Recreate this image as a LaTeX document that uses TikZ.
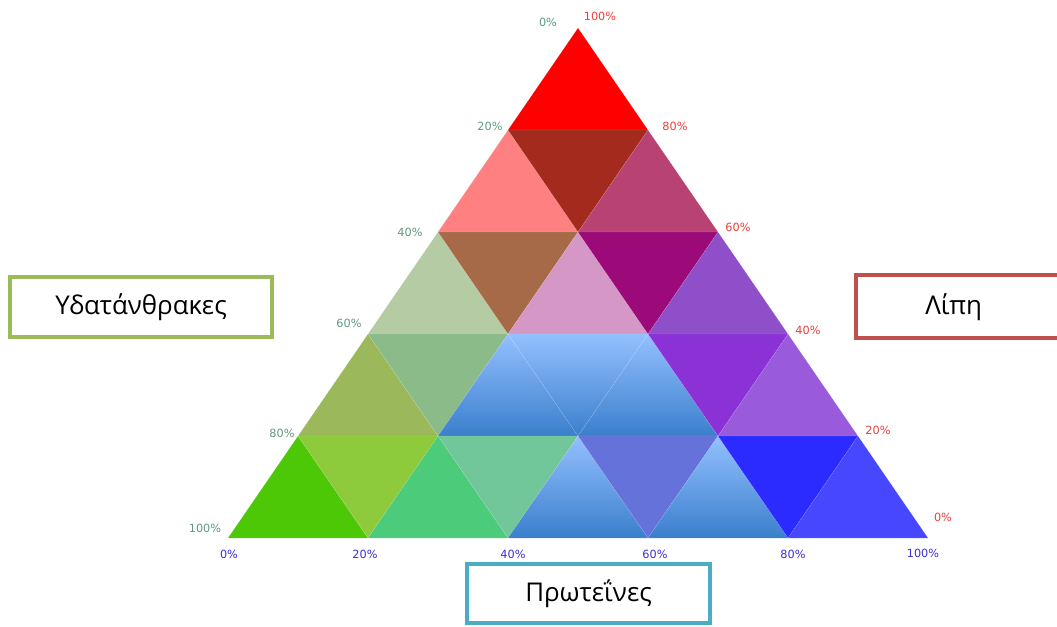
\documentclass[tikz,border=0pt]{standalone}
\usepackage{xcolor}
\usepackage{fontspec}
\setmainfont{Open Sans}
\newfontfamily\tickfont{DejaVu Sans}

\definecolor{bluetop}{HTML}{94C0FF}
\definecolor{bluebot}{HTML}{3A7FCC}
\definecolor{carbtext}{HTML}{5E9A7E}
\definecolor{fattext}{HTML}{E8403A}
\definecolor{prottext}{HTML}{3A2FD0}
\definecolor{carbline}{HTML}{9BBB59}
\definecolor{fatline}{HTML}{C0504D}
\definecolor{protline}{HTML}{4BACC6}

\begin{document}
\begin{tikzpicture}[x=0.0265cm, y=0.0265cm,
        tri/.style={draw=white, draw opacity=0.18, line width=0.3pt},
        blueshade/.style={tri, top color=bluetop, bottom color=bluebot},
        tick/.style={font=\tickfont\fontsize{8.5}{10}\selectfont, inner sep=0pt},
        ctick/.style={tick, text=carbtext},
        ftick/.style={tick, text=fattext},
        ptick/.style={tick, text=prottext},
        namebox/.style={draw, line width=3pt, fill=white, font=\fontsize{19.5}{23}\selectfont}]
    \useasboundingbox (0,0) rectangle (1057,-626);
    % row 1
    \fill [tri, fill={rgb,255:red,255;green,0;blue,0}] (578,-28) -- (508,-130) -- (648,-130) -- cycle;
    % row 2
    \fill [tri, fill={rgb,255:red,255;green,128;blue,128}] (508,-130) -- (438,-232) -- (578,-232) -- cycle;
    \fill [tri, fill={rgb,255:red,165;green,42;blue,30}] (508,-130) -- (648,-130) -- (578,-232) -- cycle;
    \fill [tri, fill={rgb,255:red,184;green,66;blue,114}] (648,-130) -- (578,-232) -- (718,-232) -- cycle;
    % row 3
    \fill [tri, fill={rgb,255:red,181;green,203;blue,163}] (438,-232) -- (368,-334) -- (508,-334) -- cycle;
    \fill [tri, fill={rgb,255:red,166;green,106;blue,72}] (438,-232) -- (578,-232) -- (508,-334) -- cycle;
    \fill [tri, fill={rgb,255:red,212;green,151;blue,198}] (578,-232) -- (508,-334) -- (648,-334) -- cycle;
    \fill [tri, fill={rgb,255:red,155;green,10;blue,120}] (578,-232) -- (718,-232) -- (648,-334) -- cycle;
    \fill [tri, fill={rgb,255:red,143;green,79;blue,200}] (718,-232) -- (648,-334) -- (788,-334) -- cycle;
    % row 4
    \fill [tri, fill={rgb,255:red,155;green,185;blue,90}] (368,-334) -- (298,-436) -- (438,-436) -- cycle;
    \fill [tri, fill={rgb,255:red,139;green,187;blue,136}] (368,-334) -- (508,-334) -- (438,-436) -- cycle;
    \shade [blueshade] (508,-334) -- (438,-436) -- (578,-436) -- cycle;
    \shade [blueshade] (508,-334) -- (648,-334) -- (578,-436) -- cycle;
    \shade [blueshade] (648,-334) -- (578,-436) -- (718,-436) -- cycle;
    \fill [tri, fill={rgb,255:red,138;green,50;blue,214}] (648,-334) -- (788,-334) -- (718,-436) -- cycle;
    \fill [tri, fill={rgb,255:red,153;green,90;blue,219}] (788,-334) -- (718,-436) -- (858,-436) -- cycle;
    % row 5
    \fill [tri, fill={rgb,255:red,76;green,200;blue,6}] (298,-436) -- (228,-538) -- (368,-538) -- cycle;
    \fill [tri, fill={rgb,255:red,142;green,203;blue,60}] (298,-436) -- (438,-436) -- (368,-538) -- cycle;
    \fill [tri, fill={rgb,255:red,76;green,203;blue,122}] (438,-436) -- (368,-538) -- (508,-538) -- cycle;
    \fill [tri, fill={rgb,255:red,114;green,199;blue,154}] (438,-436) -- (578,-436) -- (508,-538) -- cycle;
    \shade [blueshade] (578,-436) -- (508,-538) -- (648,-538) -- cycle;
    \fill [tri, fill={rgb,255:red,100;green,114;blue,217}] (578,-436) -- (718,-436) -- (648,-538) -- cycle;
    \shade [blueshade] (718,-436) -- (648,-538) -- (788,-538) -- cycle;
    \fill [tri, fill={rgb,255:red,43;green,43;blue,255}] (718,-436) -- (858,-436) -- (788,-538) -- cycle;
    \fill [tri, fill={rgb,255:red,71;green,71;blue,255}] (858,-436) -- (788,-538) -- (928,-538) -- cycle;
    % carbohydrate scale (left side)
    \node [ctick] (c0) at (548,-22) {0\%};
    \node [ctick] (c20) at (490,-126) {20\%};
    \node [ctick] (c40) at (410,-232) {40\%};
    \node [ctick] (c60) at (349,-323) {60\%};
    \node [ctick] (c80) at (282,-433) {80\%};
    \node [ctick] (c100) at (205,-528) {100\%};
    % fat scale (right side)
    \node [ftick] (f100) at (600,-16) {100\%};
    \node [ftick] (f80) at (675,-126) {80\%};
    \node [ftick] (f60) at (738,-227) {60\%};
    \node [ftick] (f40) at (808,-330) {40\%};
    \node [ftick] (f20) at (878,-430) {20\%};
    \node [ftick] (f0) at (943,-517) {0\%};
    % protein scale (base)
    \node [ptick] (p0) at (229,-554) {0\%};
    \node [ptick] (p20) at (365,-554) {20\%};
    \node [ptick] (p40) at (513,-554) {40\%};
    \node [ptick] (p60) at (655,-554) {60\%};
    \node [ptick] (p80) at (793,-554) {80\%};
    \node [ptick] (p100) at (923,-553) {100\%};
    % name boxes
    \node [namebox, draw=carbline, minimum width=6.94cm, minimum height=1.59cm] (carbs) at (141,-307) {Υδατάνθρακες};
    \node [namebox, draw=fatline, minimum width=5.46cm, minimum height=1.66cm] (fats) at (959,-306.75) {\hspace*{-8pt}Λίπη};
    \node [namebox, draw=protline, minimum width=6.44cm, minimum height=1.56cm] (proteins) at (588.5,-593.5) {Πρωτεΐνες};
\end{tikzpicture}
\end{document}
